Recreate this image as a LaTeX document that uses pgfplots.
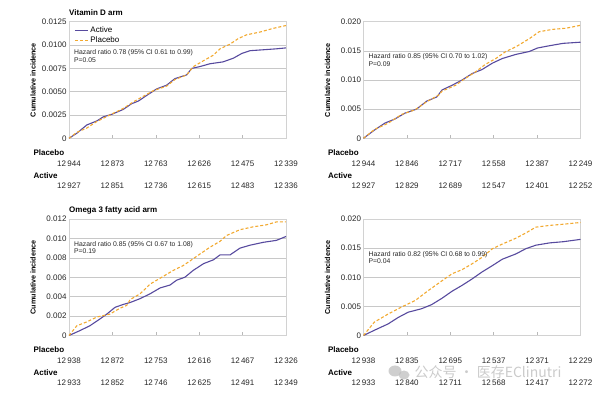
\documentclass[border=0pt]{standalone}
\usepackage{pgfplots}
\pgfplotsset{compat=1.18}
\usepackage{fontspec}
\setmainfont{Liberation Sans}
\newfontfamily\cjk{Noto Sans CJK SC}
\definecolor{act}{HTML}{574A9E}
\definecolor{plc}{HTML}{F2A930}
\definecolor{gridc}{HTML}{C8C8C8}
\pgfplotsset{km/.style={
  scale only axis, width=217pt, height=116.5pt,
  xmin=0, xmax=5, ymin=0,
  xtick={0,1,2,3,4,5}, xticklabels={}, xtick pos=bottom, xtick align=inside,
  major tick length=3pt,
  scaled y ticks=false,
  ymajorgrids, grid style={gridc, line width=0.6pt},
  axis line style={draw=gray!35, line width=0.6pt},
  xtick style={draw=gray!55, line width=0.5pt},
  ytick style={draw=none},
  tick label style={font=\fontsize{8}{9}\selectfont, text=black!85},
  yticklabel style={xshift=1pt},
  ylabel={Cumulative incidence},
  ylabel style={font=\bfseries\fontsize{7.2}{8}\selectfont, at={(axis description cs:-0.166,0.5)}, anchor=center},
  clip=false,
  /pgf/number format/assume math mode=true,
  every axis plot/.append style={line width=1.1pt},
  actsty/.style={act, solid},
  plcsty/.style={plc, dash pattern=on 3pt off 2pt},
}}
\newcommand{\riskrow}[7]{%
  \node[font=\fontsize{8}{9}\selectfont, text=black!85] at (axis cs:0,0) [yshift=#1] {#2};
  \node[font=\fontsize{8}{9}\selectfont, text=black!85] at (axis cs:1,0) [yshift=#1] {#3};
  \node[font=\fontsize{8}{9}\selectfont, text=black!85] at (axis cs:2,0) [yshift=#1] {#4};
  \node[font=\fontsize{8}{9}\selectfont, text=black!85] at (axis cs:3,0) [yshift=#1] {#5};
  \node[font=\fontsize{8}{9}\selectfont, text=black!85] at (axis cs:4,0) [yshift=#1] {#6};
  \node[font=\fontsize{8}{9}\selectfont, text=black!85] at (axis cs:5,0) [yshift=#1] {#7};
}
\newcommand{\rowlabels}{%
  \node[font=\bfseries\fontsize{8}{9}\selectfont, anchor=west] at (rel axis cs:0,0) [xshift=-39pt, yshift=-14pt] {Placebo};
  \node[font=\bfseries\fontsize{8}{9}\selectfont, anchor=west] at (rel axis cs:0,0) [xshift=-39pt, yshift=-37pt] {Active};
}
\newcommand{\hr}[3]{%
  \node[font=\fontsize{6.8}{7.6}\selectfont, text=black!85, anchor=north west, align=left, inner sep=0pt] at (rel axis cs:0,1) [xshift=5pt, yshift=-#1] {#2\\#3};
}
\begin{document}
\begin{tikzpicture}
\useasboundingbox (0,0) rectangle (600pt,396pt);
% Panel 1: Vitamin D arm
\begin{axis}[km, at={(69pt,257.7pt)}, anchor=south west,
  ymax=0.0125, ytick={0,0.0025,0.005,0.0075,0.01,0.0125},
  yticklabels={0,0.0025,0.0050,0.0075,0.0100,0.0125},
  legend style={draw=none, fill=none, at={(rel axis cs:0.01,0.99)}, anchor=north west,
    font=\fontsize{8}{9}\selectfont, row sep=-1.5pt},
  legend cell align=left,
  legend image code/.code={\draw[#1] (0pt,0pt) -- (13pt,0pt);}]
\addplot[actsty] coordinates {(0,0) (0.18,0.00054) (0.41,0.00143) (0.64,0.00186) (0.79,0.0023) (1.0,0.0026) (1.25,0.0031) (1.44,0.0037) (1.6,0.004) (1.79,0.0046) (2.02,0.0053) (2.25,0.0057) (2.44,0.0064) (2.71,0.0068) (2.83,0.0075) (3.02,0.0077) (3.25,0.008) (3.55,0.0082) (3.79,0.0086) (3.98,0.0091) (4.17,0.0094) (4.48,0.0095) (4.78,0.0096) (5.0,0.0097)};
\addlegendentry{Active}
\addplot[plcsty] coordinates {(0,0) (0.18,0.00064) (0.41,0.0011) (0.64,0.0018) (0.94,0.0025) (1.25,0.0032) (1.48,0.0039) (1.71,0.0045) (1.94,0.0051) (2.25,0.0056) (2.44,0.0063) (2.71,0.0068) (2.87,0.0077) (3.09,0.0083) (3.32,0.0089) (3.48,0.0096) (3.71,0.0101) (3.9,0.0107) (4.09,0.0111) (4.4,0.0114) (4.71,0.0118) (5.0,0.0121)};
\addlegendentry{Placebo}
\node[font=\bfseries\fontsize{8}{9}\selectfont, anchor=base west, inner sep=0pt] at (rel axis cs:0,1) [yshift=6pt] {Vitamin D arm};
\hr{28pt}{Hazard ratio 0.78 (95\% CI 0.61 to 0.99)}{P=0.05}
\rowlabels
\riskrow{-25pt}{12\,944}{12\,873}{12\,763}{12\,626}{12\,475}{12\,339}
\riskrow{-47pt}{12\,927}{12\,851}{12\,736}{12\,615}{12\,483}{12\,336}
\end{axis}
% Panel 2
\begin{axis}[km, at={(363.5pt,257.7pt)}, anchor=south west,
  ymax=0.02, ytick={0,0.005,0.01,0.015,0.02},
  yticklabels={0,0.005,0.010,0.015,0.020}]
\addplot[actsty] coordinates {(0,0) (0.25,0.0014) (0.49,0.0026) (0.72,0.0033) (0.95,0.0043) (1.22,0.005) (1.46,0.0064) (1.69,0.0071) (1.81,0.0083) (2.04,0.0091) (2.27,0.01) (2.5,0.0111) (2.73,0.0118) (2.97,0.0129) (3.2,0.0137) (3.51,0.0144) (3.82,0.0149) (4.01,0.0155) (4.29,0.0159) (4.6,0.0163) (5.0,0.0165)};
\addplot[plcsty] coordinates {(0,0) (0.25,0.0015) (0.57,0.0026) (0.88,0.0041) (1.19,0.0049) (1.46,0.0063) (1.73,0.0074) (1.81,0.0081) (2.12,0.0091) (2.35,0.0103) (2.58,0.0114) (2.81,0.0127) (3.05,0.0137) (3.28,0.0149) (3.51,0.0157) (3.82,0.0171) (4.05,0.0183) (4.36,0.0187) (4.67,0.0189) (5.0,0.0194)};
\hr{32pt}{Hazard ratio 0.85 (95\% CI 0.70 to 1.02)}{P=0.09}
\rowlabels
\riskrow{-25pt}{12\,944}{12\,846}{12\,717}{12\,558}{12\,387}{12\,249}
\riskrow{-47pt}{12\,927}{12\,829}{12\,689}{12\,547}{12\,401}{12\,252}
\end{axis}
% Panel 3: Omega 3
\begin{axis}[km, at={(69pt,60.5pt)}, anchor=south west,
  ymax=0.012, ytick={0,0.002,0.004,0.006,0.008,0.01,0.012},
  yticklabels={0,0.002,0.004,0.006,0.008,0.010,0.012}]
\addplot[actsty] coordinates {(0,0) (0.25,0.0005) (0.48,0.001) (0.68,0.0016) (0.87,0.0022) (1.06,0.0029) (1.25,0.0032) (1.41,0.0034) (1.64,0.0038) (1.87,0.0043) (2.1,0.0049) (2.33,0.0052) (2.48,0.0057) (2.67,0.006) (2.86,0.0067) (3.1,0.0074) (3.33,0.0078) (3.48,0.0083) (3.71,0.0083) (3.94,0.009) (4.17,0.0093) (4.48,0.0096) (4.78,0.0098) (5.0,0.0102)};
\addplot[plcsty] coordinates {(0,0) (0.18,0.001) (0.41,0.0014) (0.64,0.0019) (0.94,0.0022) (1.17,0.0028) (1.33,0.0031) (1.41,0.0037) (1.64,0.0043) (1.87,0.0053) (2.1,0.0059) (2.4,0.0067) (2.63,0.0072) (2.86,0.0079) (3.02,0.0084) (3.25,0.0091) (3.48,0.0097) (3.63,0.0103) (3.94,0.0109) (4.25,0.0112) (4.55,0.0114) (4.78,0.0117) (5.0,0.0117)};
\node[font=\bfseries\fontsize{8}{9}\selectfont, anchor=base west, inner sep=0pt] at (rel axis cs:0,1) [yshift=6pt] {Omega 3 fatty acid arm};
\hr{22pt}{Hazard ratio 0.85 (95\% CI 0.67 to 1.08)}{P=0.19}
\rowlabels
\riskrow{-25pt}{12\,938}{12\,872}{12\,753}{12\,616}{12\,467}{12\,326}
\riskrow{-47pt}{12\,933}{12\,852}{12\,746}{12\,625}{12\,491}{12\,349}
\end{axis}
% Panel 4
\begin{axis}[km, at={(363.5pt,60.5pt)}, anchor=south west,
  ymax=0.02, ytick={0,0.005,0.01,0.015,0.02},
  yticklabels={0,0.005,0.010,0.015,0.020}]
\addplot[actsty] coordinates {(0,0) (0.25,0.0009) (0.57,0.002) (0.8,0.0031) (1.03,0.004) (1.34,0.0046) (1.57,0.0053) (1.81,0.0064) (2.04,0.0076) (2.27,0.0086) (2.5,0.0097) (2.73,0.0109) (2.97,0.012) (3.2,0.0131) (3.51,0.014) (3.74,0.0149) (3.97,0.0155) (4.29,0.0159) (4.6,0.0161) (5.0,0.0165)};
\addplot[plcsty] coordinates {(0,0) (0.25,0.0023) (0.57,0.0037) (0.88,0.0049) (1.19,0.006) (1.49,0.0077) (1.81,0.0094) (2.04,0.0106) (2.27,0.0113) (2.5,0.0123) (2.73,0.0134) (2.97,0.0149) (3.2,0.0157) (3.51,0.0167) (3.74,0.0176) (3.97,0.0186) (4.29,0.0189) (4.6,0.0191) (5.0,0.0194)};
\hr{32pt}{Hazard ratio 0.82 (95\% CI 0.68 to 0.99)}{P=0.04}
\rowlabels
\riskrow{-25pt}{12\,938}{12\,835}{12\,695}{12\,537}{12\,371}{12\,229}
\riskrow{-47pt}{12\,933}{12\,840}{12\,711}{12\,568}{12\,417}{12\,272}
\end{axis}
% watermark
\node[font=\cjk\fontsize{14}{16}\selectfont, text=gray!55, opacity=0.75, anchor=west] at (411pt,24pt) {公众号 · 医存EClinutri};
\fill[gray!50, opacity=0.75] (395pt,25pt) ellipse (6.5pt and 5.5pt);
\fill[gray!50, opacity=0.75] (404pt,21pt) ellipse (5.5pt and 4.5pt);
\end{tikzpicture}
\end{document}
